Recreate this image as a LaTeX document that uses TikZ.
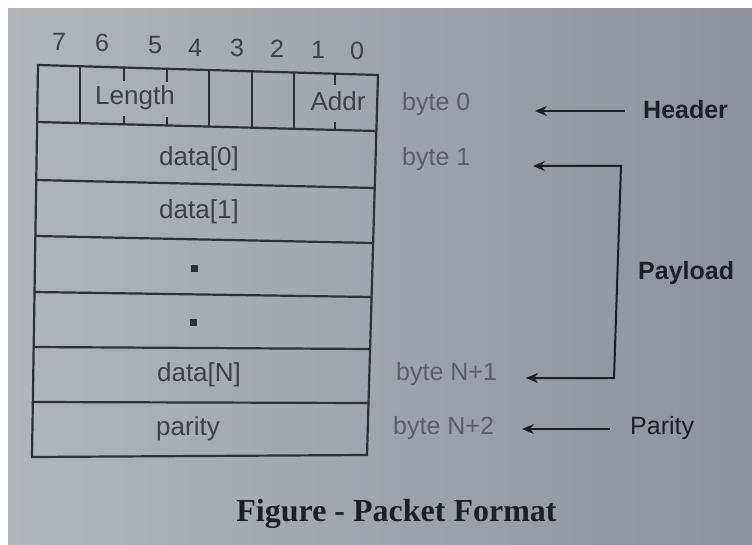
\documentclass[tikz,border=0pt]{standalone}
\usepackage{fontspec}
\setmainfont{Liberation Sans}
\newfontfamily\capfont{Liberation Serif}
\usetikzlibrary{arrows.meta}
\definecolor{bgL}{RGB}{176,182,185}
\definecolor{bgM}{RGB}{186,190,194}
\definecolor{bgR}{RGB}{142,147,155}
\definecolor{ln}{RGB}{45,48,53}
\definecolor{txt}{RGB}{62,65,70}
\definecolor{lbl}{RGB}{92,96,102}
\definecolor{dark}{RGB}{28,31,36}
\begin{document}
\begin{tikzpicture}[x=1pt,y=-1pt,
  gridline/.style={draw=ln, line width=2.2pt, line cap=round},
  tickline/.style={draw=ln, line width=1.6pt},
  celltext/.style={text=txt, font=\fontsize{26}{28}\selectfont, inner sep=0pt},
  bitnum/.style={text=txt, font=\fontsize{25}{27}\selectfont, inner sep=0pt},
  bytelbl/.style={text=lbl, font=\fontsize{25}{27}\selectfont, inner sep=0pt, anchor=west},
  sidelbl/.style={text=dark, font=\fontsize{25}{27}\selectfont\bfseries, inner sep=0pt, anchor=west},
  sidelblr/.style={text=dark, font=\fontsize{25}{27}\selectfont, inner sep=0pt, anchor=west},
  dotmark/.style={rectangle, fill=ln, inner sep=0pt, minimum size=7pt},
  arr/.style={draw=dark, line width=2pt, -{Stealth[length=12pt,width=10pt]}},
  arrboth/.style={draw=dark, line width=2pt, {Stealth[length=12pt,width=10pt]}-{Stealth[length=12pt,width=10pt]}},
]
\useasboundingbox (0,0) rectangle (752,545);
\fill[white] (0,0) rectangle (752,545);
\shade[left color=bgL, middle color=bgM, right color=bgR] (8,9) rectangle (752,545);

% table corners (left / right end of each horizontal rule)
\coordinate (L0) at (38,65);    \coordinate (R0) at (378,75);
\coordinate (L1) at (37.1,122); \coordinate (R1) at (376.4,131);
\coordinate (L2) at (36.2,180); \coordinate (R2) at (374.7,188);
\coordinate (L3) at (35.4,236); \coordinate (R3) at (373.1,243);
\coordinate (L4) at (34.5,292); \coordinate (R4) at (371.6,297);
\coordinate (L5) at (33.7,347); \coordinate (R5) at (370.1,349);
\coordinate (L6) at (32.8,402); \coordinate (R6) at (368.5,403);
\coordinate (L7) at (32,457);   \coordinate (R7) at (367,455);

\draw[gridline] (L0) -- (R0) -- (R7) -- (L7) -- cycle;
\foreach \i in {1,...,6} { \draw[gridline] (L\i) -- (R\i); }

% header cell dividers
\draw[gridline] (80,66.2) -- (80,123.1);
\draw[gridline] (209,70.0) -- (209,126.6);
\draw[gridline] (252,71.3) -- (252,127.7);
\draw[gridline] (294,72.5) -- (294,128.8);
% bit ticks
\draw[tickline] (124,67.5) -- (124,81);   \draw[tickline] (124,124.3) -- (124,116);
\draw[tickline] (167,68.8) -- (167,82);   \draw[tickline] (167,125.5) -- (167,117);
\draw[tickline] (335,73.7) -- (335,85);   \draw[tickline] (335,129.9) -- (335,122);

% bit numbers
\node[bitnum] (b7) at (59,41.5) {7};
\node[bitnum] (b6) at (102,42.5) {6};
\node[bitnum] (b5) at (155,45.5) {5};
\node[bitnum] (b4) at (195,47.5) {4};
\node[bitnum] (b3) at (237,47.5) {3};
\node[bitnum] (b2) at (277,49) {2};
\node[bitnum] (b1) at (318,50) {1};
\node[bitnum] (b0) at (357,51) {0};

% cell texts
\node[celltext] (len)  at (135,98)  {Length};
\node[celltext] (addr) at (338,101) {Addr};
\node[celltext] (d0)   at (199,159) {data[0]};
\node[celltext] (d1)   at (199,212) {data[1]};
\node[dotmark]  (dotA) at (194,269) {};
\node[dotmark]  (dotB) at (193,322) {};
\node[celltext] (dN)   at (199,375) {data[N]};
\node[celltext] (par)  at (188,429) {parity};

% byte labels
\node[bytelbl] (by0)  at (402,104) {byte 0};
\node[bytelbl] (by1)  at (402,159) {byte 1};
\node[bytelbl] (byN1) at (396,374) {byte N+1};
\node[bytelbl] (byN2) at (393,428) {byte N+2};

% side labels
\node[sidelbl]  (hdr) at (643,110) {Header};
\node[sidelbl]  (pay) at (638,273) {Payload};
\node[sidelblr] (pty) at (630,428) {Parity};

% arrows
\coordinate (hdrtip) at (535,111);
\coordinate (ptytip) at (522,429);
\coordinate (paytop) at (533,166);
\coordinate (payc1)  at (621,166);
\coordinate (payc2)  at (614,378);
\coordinate (paybot) at (526,378);
\draw[arr, shorten <=18pt] (hdr.west |- hdrtip) -- (hdrtip);
\draw[arr, shorten <=20pt] (pty.west |- ptytip) -- (ptytip);
\draw[arrboth, line join=miter] (paytop) -- (payc1) -- (payc2) -- (paybot);

% caption
\node[text=dark, inner sep=0pt, font=\capfont\bfseries\fontsize{32}{34}\selectfont] (cap) at (396.5,514) {Figure - Packet Format};
\end{tikzpicture}
\end{document}
